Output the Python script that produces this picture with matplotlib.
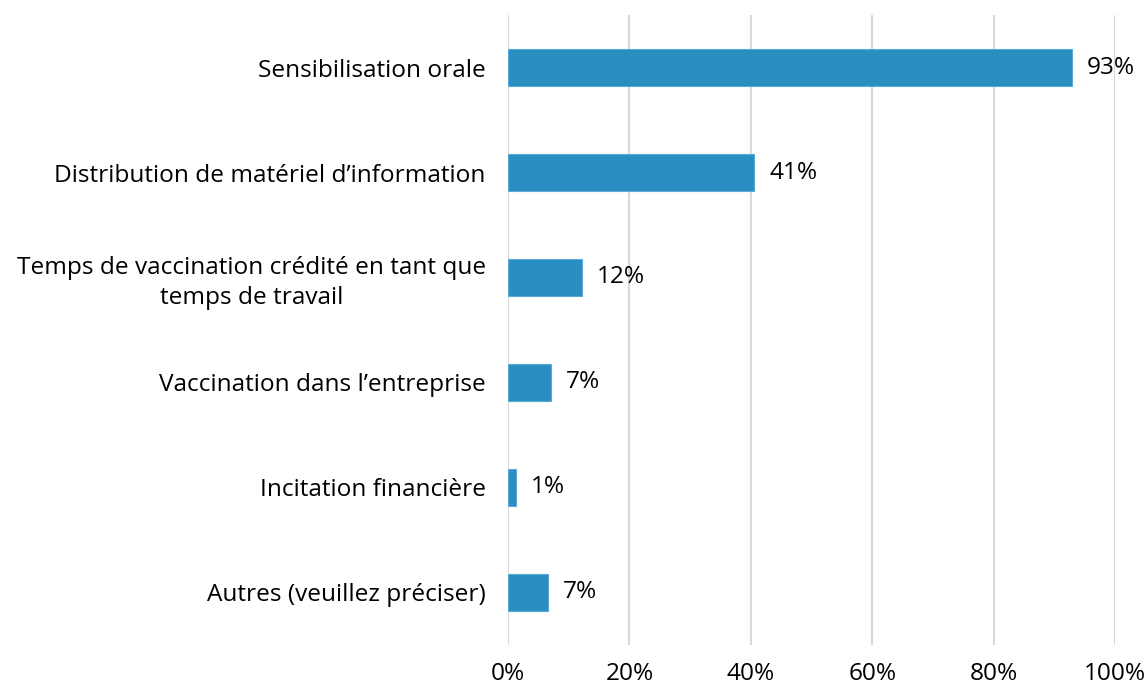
import matplotlib
matplotlib.use('Agg')
import matplotlib.pyplot as plt
from matplotlib.ticker import PercentFormatter

# data
categories = [
    "Sensibilisation orale",
    "Distribution de matériel d\u2019information",
    "Temps de vaccination crédité en tant que\ntemps de travail",
    "Vaccination dans l\u2019entreprise",
    "Incitation financière",
    "Autres (veuillez préciser)",
]
values = [92.9, 40.6, 12.2, 7.1, 1.3, 6.6]
value_labels = ["93%", "41%", "12%", "7%", "1%", "7%"]
xticks = [0, 20, 40, 60, 80, 100]

BAR_COLOR = '#2a8ec2'
GRID_COLOR = '#d9d9d9'
FS = 17.6

plt.rcParams['font.family'] = ['Open Sans', 'DejaVu Sans']

fig = plt.figure(figsize=(11.48, 6.86), dpi=100)
ax = fig.add_axes([0.4425, 0.06, 0.5288, 0.918])

ypos = list(range(len(categories)))
ax.barh(ypos, values, height=0.35, color=BAR_COLOR, edgecolor='#5aaad6',
        linewidth=0.8, zorder=3)

for y, v, lab in zip(ypos, values, value_labels):
    ax.text(v + 2.5, y, lab, va='center', ha='left', fontsize=FS, color='black')

ax.set_ylim(len(categories) - 0.5, -0.5)
ax.set_xlim(0, 100)
ax.set_yticks(ypos)
ax.set_yticklabels(categories, fontsize=FS, ha='right', multialignment='center',
                   linespacing=1.3)
ax.set_xticks(xticks)
ax.xaxis.set_major_formatter(PercentFormatter(decimals=0))
ax.tick_params(axis='x', length=0, pad=12, labelsize=FS)
ax.tick_params(axis='y', length=0, pad=16)

ax.grid(axis='x', color=GRID_COLOR, linewidth=1.5, zorder=0)
for s in ax.spines.values():
    s.set_visible(False)

fig.savefig('out.png', dpi=100)
